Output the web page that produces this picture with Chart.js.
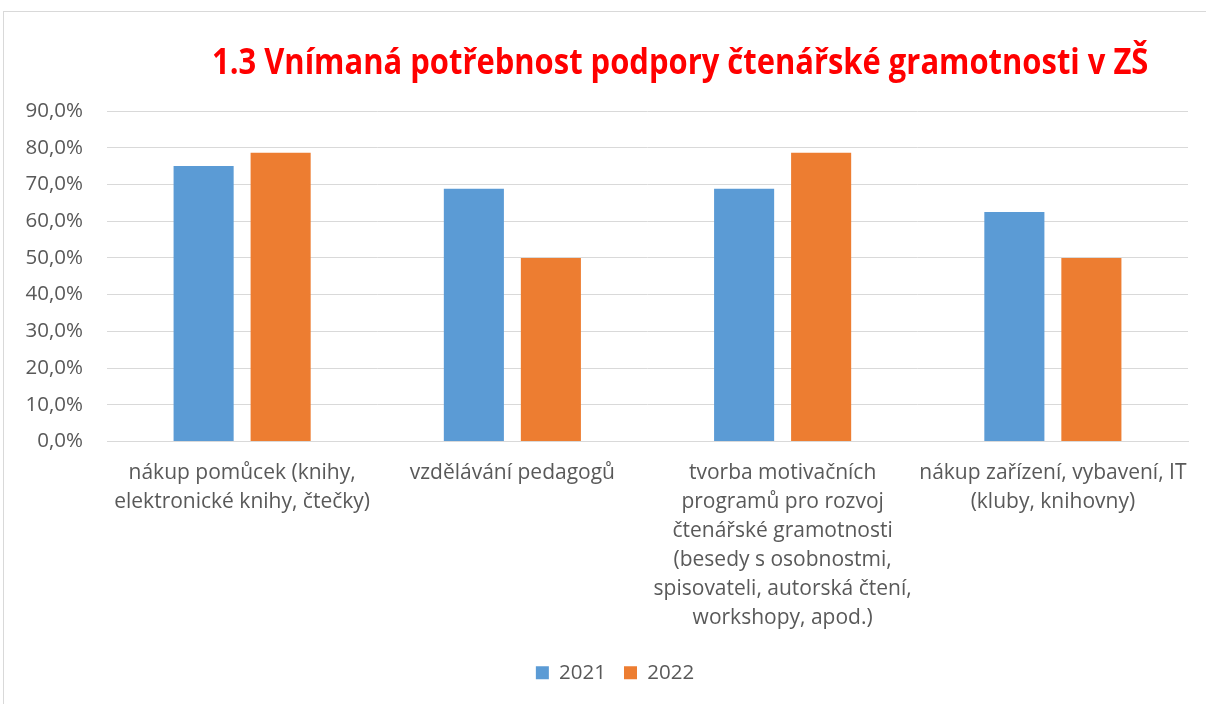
<!DOCTYPE html>
<html>
<head>
<meta charset="utf-8">
<script src="https://cdn.jsdelivr.net/npm/chart.js@4.4.1/dist/chart.umd.min.js"></script>
<style>
  html, body { margin: 0; padding: 0; background: #ffffff; overflow: hidden; }
  #wrap { position: relative; width: 1206px; height: 704px; overflow: hidden; }
  #frame { position: absolute; left: 3px; top: 11px; width: 1300px; height: 800px;
           border: 1px solid #d9d9d9; box-sizing: border-box; }
  #title { position: absolute; left: 212px; top: 43px; margin: 0;
           font-family: 'Open Sans', sans-serif; font-weight: 700; font-size: 35px;
           line-height: 35px; color: #ff0000; white-space: nowrap; transform-origin: 0 0; }
  #chart { position: absolute; left: 0; top: 0; }
</style>
</head>
<body>
<div id="wrap">
  <div id="frame"></div>
  <canvas id="chart" width="1206" height="704"></canvas>
  <div id="title">1.3 Vnímaná potřebnost podpory čtenářské gramotnosti v ZŠ</div>
</div>
<script>
// Categories (wrapped into lines as shown under the axis)
const categories = [
  ['nákup pomůcek (knihy,', 'elektronické knihy, čtečky)'],
  ['vzdělávání pedagogů'],
  ['tvorba motivačních', 'programů pro rozvoj', 'čtenářské gramotnosti', '(besedy s osobnostmi,', 'spisovateli, autorská čtení,', 'workshopy, apod.)'],
  ['nákup zařízení, vybavení, IT', '(kluby, knihovny)']
];
const seriesNames = ['2021', '2022'];
// Share of schools (%)
const values2021 = [75.0, 68.8, 68.8, 62.5];
const values2022 = [78.6, 50.0, 78.6, 50.0];
const yTickValues = [0, 10, 20, 30, 40, 50, 60, 70, 80, 90];

// Squeeze the heading to its box width
const titleEl = document.getElementById('title');
const titleWidth = 936;
const sx = titleWidth / titleEl.scrollWidth;
titleEl.style.transform = 'scaleX(' + sx + ')';

const textColor = '#595959';
const gridColor = '#d9d9d9';
const family = "'Open Sans', sans-serif";
const categoryFont = { family: family, size: 21, lineHeight: 29 / 21 };
const tickFont = { family: family, size: 20.5 };
const legendFont = { family: family, size: 20.5 };

// Nudge the legend row to the right of the canvas centre
const legendShift = {
  id: 'legendShift',
  afterLayout(chart) {
    if (chart.legend) { chart.legend.left += 42; }
  }
};

new Chart(document.getElementById('chart'), {
  type: 'bar',
  data: {
    labels: categories,
    datasets: [
      { label: seriesNames[0], data: values2021, backgroundColor: '#5b9bd5', borderWidth: 0,
        categoryPercentage: 0.57, barPercentage: 0.78 },
      { label: seriesNames[1], data: values2022, backgroundColor: '#ed7d31', borderWidth: 0,
        categoryPercentage: 0.57, barPercentage: 0.78 }
    ]
  },
  plugins: [legendShift],
  options: {
    responsive: false,
    animation: false,
    devicePixelRatio: 1,
    layout: { padding: { left: 0, right: 18, top: 111, bottom: 11 } },
    plugins: {
      title: { display: false },
      tooltip: { enabled: false },
      legend: {
        position: 'bottom',
        labels: {
          color: textColor, font: legendFont, boxWidth: 13, boxHeight: 13, padding: 18
        }
      }
    },
    scales: {
      x: {
        grid: { display: false, drawTicks: false },
        border: { display: true, color: gridColor, width: 1 },
        ticks: { color: textColor, font: categoryFont, maxRotation: 0, autoSkip: false, padding: 17 },
        afterFit: (scale) => { scale.height = 203; }
      },
      y: {
        min: 0, max: 90,
        grid: { color: gridColor, lineWidth: 1, drawTicks: false },
        border: { display: false },
        afterBuildTicks: (scale) => { scale.ticks = yTickValues.map(v => ({ value: v })); },
        ticks: {
          color: textColor, font: tickFont, padding: 24,
          callback: (v) => v.toFixed(1).replace('.', ',') + '%'
        },
        afterFit: (scale) => { scale.width = 107; }
      }
    }
  }
});
</script>
</body>
</html>
